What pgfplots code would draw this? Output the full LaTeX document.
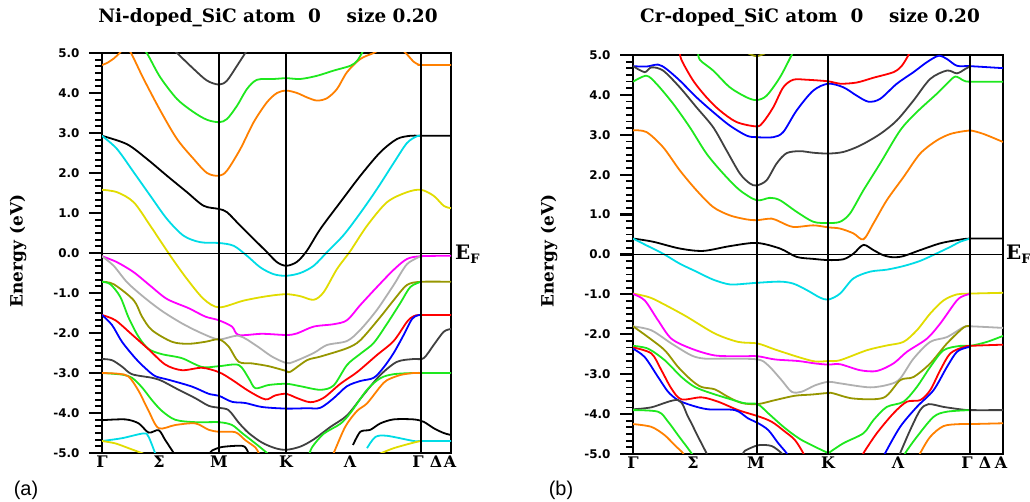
\documentclass[border=0pt]{standalone}
\usepackage{pgfplots}
\pgfplotsset{compat=1.18}
\usepackage{fontspec}
\setmainfont{DejaVu Serif}
\newfontfamily\tickfont{DejaVu Sans}
\newfontfamily\labfont{Liberation Sans}
\definecolor{bOr}{RGB}{255,128,0}
\definecolor{bGr}{RGB}{30,232,30}
\definecolor{bCy}{RGB}{0,220,230}
\definecolor{bYe}{RGB}{225,220,0}
\definecolor{bDG}{RGB}{64,64,64}
\definecolor{bMa}{RGB}{255,0,255}
\definecolor{bLG}{RGB}{176,176,176}
\definecolor{bOl}{RGB}{150,150,0}
\definecolor{bRe}{RGB}{255,0,0}
\definecolor{bBl}{RGB}{0,0,255}
\newcommand{\klab}{\bfseries\fontsize{16}{18}\selectfont}
\pgfplotsset{bandax/.style={
  scale only axis, anchor=south west,
  ymin=-5, ymax=5,
  ytick={-5,-4,-3,-2,-1,0,1,2,3,4,5},
  yticklabels={-5.0,-4.0,-3.0,-2.0,-1.0,0.0,1.0,2.0,3.0,4.0,5.0},
  xtick=\empty,
  tick pos=left,
  major tick length=0pt, minor tick length=0pt,
  yticklabel style={font=\tickfont\bfseries\fontsize{12}{14}\selectfont, xshift=-19bp},
  axis line style={line width=1.8bp},
  clip=true,
  every axis plot/.append style={line width=1.8bp, smooth, no markers},
}}
\begin{document}
\begin{tikzpicture}
\useasboundingbox (0,0) rectangle (1030bp,502bp);
% ---------------- panel (a) ----------------
\begin{axis}[bandax, at={(102bp,49bp)}, width=349bp, height=400bp,
  xmin=125, xmax=1172]
\addplot[bOr] coordinates {(125,4.70)(140,4.75)(160,4.86)(178,5.0)(195,5.15)(212,5.0)(250,4.35)(300,3.56)(350,2.85)(400,2.35)(440,2.0)(476,1.93)(500,2.06)(540,2.6)(580,3.27)(620,3.77)(650,4.0)(678,4.06)(710,4.0)(740,3.89)(770,3.81)(800,3.87)(830,4.1)(860,4.52)(900,4.85)(940,5.0)(960,5.1)};
\addplot[bOr] coordinates {(1030,5.05)(1045,4.92)(1060,4.78)(1075,4.71)(1082,4.70)(1172,4.70)};
\addplot[bGr] coordinates {(255,5.05)(265,4.92)(300,4.39)(350,3.85)(400,3.52)(440,3.33)(476,3.27)(500,3.35)(530,3.68)(560,4.1)(590,4.33)(640,4.35)(678,4.37)(720,4.35)(770,4.43)(820,4.56)(870,4.68)(890,4.8)(905,5.0)(912,5.1)};
\addplot[bDG] coordinates {(340,5.08)(350,5.0)(400,4.6)(440,4.31)(476,4.21)(500,4.31)(530,4.68)(555,5.0)(565,5.1)};
\addplot[black] coordinates {(125,2.93)(200,2.72)(260,2.35)(320,1.93)(380,1.52)(430,1.18)(476,1.1)(500,1.02)(540,0.68)(580,0.35)(620,0.02)(650,-0.23)(678,-0.32)(710,-0.22)(740,0.06)(780,0.6)(840,1.27)(900,1.93)(960,2.52)(1010,2.85)(1050,2.93)(1082,2.93)(1172,2.93)};
\addplot[bCy] coordinates {(125,2.93)(170,2.6)(220,2.02)(270,1.43)(320,0.85)(370,0.43)(420,0.27)(476,0.25)(520,0.18)(560,-0.07)(600,-0.36)(640,-0.53)(678,-0.57)(720,-0.5)(760,-0.32)(800,0.02)(850,0.45)(900,1.0)(950,1.6)(1000,2.25)(1040,2.75)(1070,2.92)(1082,2.93)};
\addplot[bYe] coordinates {(125,1.58)(170,1.52)(220,1.27)(270,0.68)(330,-0.07)(380,-0.65)(430,-1.15)(476,-1.36)(550,-1.19)(620,-1.08)(678,-1.03)(720,-1.08)(760,-1.17)(790,-0.98)(830,-0.4)(870,0.05)(920,0.68)(980,1.27)(1040,1.52)(1082,1.58)(1120,1.43)(1150,1.18)(1172,1.12)};
\addplot[bMa] coordinates {(125,-0.08)(170,-0.23)(220,-0.48)(270,-0.82)(320,-1.15)(385,-1.38)(435,-1.59)(475,-1.68)(515,-1.84)(535,-2.05)(605,-2.02)(678,-2.05)(710,-2.01)(760,-1.84)(820,-1.78)(860,-1.68)(900,-1.3)(950,-0.85)(1000,-0.42)(1040,-0.15)(1082,-0.08)(1172,-0.07)};
\addplot[bLG] coordinates {(125,-0.08)(160,-0.32)(200,-0.73)(250,-1.1)(305,-1.45)(365,-1.76)(425,-2.01)(476,-2.16)(535,-2.07)(585,-2.3)(635,-2.59)(678,-2.75)(700,-2.72)(760,-2.5)(800,-2.3)(860,-2.2)(900,-1.92)(950,-1.42)(1000,-0.8)(1040,-0.28)(1082,-0.08)};
\addplot[bOl] coordinates {(125,-0.72)(160,-0.78)(220,-1.18)(245,-1.59)(275,-1.93)(335,-2.22)(385,-2.27)(435,-2.22)(476,-2.16)(505,-2.34)(535,-2.72)(575,-2.76)(625,-2.83)(678,-2.95)(690,-2.97)(740,-2.68)(780,-2.59)(860,-2.38)(900,-2.18)(960,-1.6)(1000,-1.18)(1040,-0.8)(1082,-0.72)(1172,-0.72)};
\addplot[bGr] coordinates {(125,-0.72)(150,-0.78)(180,-1.1)(205,-1.62)(235,-2.1)(265,-2.4)(305,-2.53)(365,-2.63)(425,-2.85)(476,-2.83)(535,-2.8)(565,-3.13)(585,-3.38)(625,-3.3)(678,-3.27)(720,-3.33)(780,-3.42)(820,-3.31)(860,-2.8)(900,-2.52)(940,-2.25)(980,-1.77)(1020,-1.25)(1050,-0.85)(1082,-0.72)};
\addplot[bRe] coordinates {(125,-1.55)(165,-1.68)(215,-2.04)(265,-2.41)(315,-2.79)(365,-2.93)(425,-2.87)(476,-2.98)(515,-3.17)(565,-3.45)(615,-3.66)(645,-3.56)(678,-3.52)(705,-3.61)(750,-3.73)(790,-3.62)(840,-3.27)(890,-2.98)(950,-2.55)(1000,-2.2)(1040,-1.72)(1060,-1.58)(1082,-1.55)(1172,-1.55)};
\addplot[bBl] coordinates {(125,-1.55)(155,-1.8)(185,-2.22)(225,-2.63)(255,-2.88)(285,-3.08)(325,-3.17)(395,-3.34)(445,-3.52)(476,-3.57)(515,-3.72)(555,-3.75)(605,-3.85)(678,-3.89)(740,-3.88)(780,-3.87)(820,-3.63)(860,-3.33)(900,-3.2)(940,-3.12)(970,-2.86)(1000,-2.5)(1030,-2.05)(1055,-1.65)(1072,-1.56)(1082,-1.55)};
\addplot[bDG] coordinates {(125,-2.65)(155,-2.68)(185,-2.84)(215,-3.03)(275,-3.12)(305,-3.2)(355,-3.42)(405,-3.63)(445,-3.82)(476,-3.87)(505,-3.93)(535,-4.24)(565,-4.5)(605,-4.74)(645,-4.88)(678,-4.92)(720,-4.84)(760,-4.66)(810,-4.35)(860,-4.06)(910,-3.54)(960,-3.05)(1010,-2.72)(1060,-2.65)(1090,-2.63)(1120,-2.3)(1150,-1.97)(1172,-1.9)};
\addplot[bGr] coordinates {(125,-3.0)(185,-3.04)(215,-3.12)(245,-3.36)(275,-3.68)(305,-3.95)(345,-4.17)(405,-4.23)(476,-4.23)(515,-4.3)(545,-4.5)(585,-4.76)(620,-5.0)(630,-5.1)};
\addplot[bGr] coordinates {(745,-5.1)(755,-4.86)(790,-4.52)(840,-4.27)(870,-4.0)(920,-3.42)(960,-3.13)(1000,-3.03)(1060,-3.0)(1082,-3.0)(1172,-3.0)};
\addplot[bOr] coordinates {(125,-3.0)(175,-3.02)(205,-3.09)(235,-3.45)(265,-3.95)(295,-4.38)(345,-4.3)(405,-4.26)(445,-4.42)(476,-4.47)(525,-4.48)(555,-4.68)(585,-4.86)(595,-5.0)(600,-5.1)};
\addplot[bOr] coordinates {(812,-5.1)(820,-5.0)(855,-4.34)(890,-3.95)(920,-3.76)(960,-3.34)(980,-3.18)(1020,-3.05)(1060,-3.0)(1082,-3.0)};
\addplot[black] coordinates {(125,-4.18)(195,-4.16)(235,-4.26)(265,-4.49)(295,-4.43)(315,-4.68)(340,-5.0)(345,-5.1)};
\addplot[black] coordinates {(450,-5.0)(455,-4.94)(485,-4.85)(545,-4.82)(560,-4.92)(566,-5.05)};
\addplot[black] coordinates {(878,-4.8)(900,-4.47)(930,-4.42)(960,-4.26)(1000,-4.16)(1060,-4.16)(1090,-4.22)(1120,-4.38)(1150,-4.5)(1172,-4.55)};
\addplot[bCy] coordinates {(125,-4.7)(185,-4.63)(250,-4.51)(265,-4.6)(285,-5.02)};
\addplot[bCy] coordinates {(920,-4.88)(945,-4.6)(980,-4.57)(1060,-4.7)(1082,-4.7)(1172,-4.7)};
\addplot[bYe] coordinates {(125,-4.7)(165,-4.76)(205,-4.88)(250,-5.02)};
\addplot[bYe] coordinates {(958,-5.02)(1000,-4.88)(1060,-4.74)(1082,-4.7)};
\draw[line width=0.7bp] (125,0) -- (1172,0);
\draw[line width=2bp] (476,-5) -- (476,5);
\draw[line width=2bp] (678,-5) -- (678,5);
\draw[line width=2bp] (1082,-5) -- (1082,5);
\end{axis}
\foreach \x/\l in {102/Γ,159/Σ,219/M,286/K,350/Λ,418/Γ,436/Δ,450/A}
  \node[anchor=north, inner sep=0pt] at (\x bp,46bp) {\klab \l};
% ---------------- panel (b) ----------------
\begin{axis}[bandax, at={(633bp,48bp)}, width=370bp, height=399bp,
  xmin=160, xmax=1268]
\addplot[bBl] coordinates {(160,4.72)(200,4.71)(235,4.76)(260,4.65)(300,4.36)(350,3.94)(400,3.57)(450,3.23)(500,2.98)(530,2.94)(580,2.94)(610,3.07)(650,3.61)(700,4.11)(745,4.28)(790,4.19)(830,3.98)(865,3.83)(900,3.9)(950,4.28)(1000,4.57)(1040,4.82)(1075,4.98)(1100,4.9)(1130,4.73)(1170,4.72)(1268,4.67)};
\addplot[bDG] coordinates {(160,4.72)(195,4.57)(215,4.69)(250,4.61)(300,4.19)(350,3.69)(400,3.19)(440,2.61)(480,2.03)(510,1.78)(530,1.73)(560,1.86)(590,2.28)(620,2.54)(660,2.59)(700,2.55)(745,2.53)(790,2.57)(840,2.73)(900,3.02)(950,3.36)(1000,3.86)(1050,4.4)(1100,4.61)(1130,4.54)(1155,4.65)(1170,4.72)};
\addplot[bRe] coordinates {(300,5.1)(305,4.88)(340,4.36)(380,3.94)(420,3.61)(470,3.32)(530,3.21)(550,3.32)(580,3.69)(610,4.19)(640,4.38)(680,4.38)(745,4.34)(780,4.28)(830,4.31)(880,4.43)(940,4.57)(965,4.73)(985,5.0)(990,5.1)};
\addplot[bGr] coordinates {(355,5.1)(360,4.88)(400,4.61)(450,4.19)(500,3.94)(530,3.87)(560,3.98)(600,4.44)(635,5.0)(640,5.1)};
\addplot[bOl] coordinates {(505,5.04)(530,4.97)(555,5.04)};
\addplot[bGr] coordinates {(160,4.33)(200,4.48)(230,4.28)(280,3.78)(330,3.19)(380,2.53)(430,2.03)(480,1.61)(530,1.36)(570,1.42)(600,1.36)(650,1.07)(700,0.82)(745,0.79)(780,0.82)(810,1.03)(850,1.61)(900,2.28)(960,3.11)(1010,3.57)(1070,4.03)(1100,4.28)(1125,4.46)(1150,4.36)(1170,4.33)(1268,4.33)};
\addplot[bOr] coordinates {(160,3.11)(200,3.07)(250,2.69)(300,2.11)(350,1.61)(400,1.19)(450,0.98)(500,0.88)(530,0.86)(575,0.9)(600,0.82)(640,0.69)(700,0.73)(745,0.68)(780,0.65)(820,0.53)(850,0.38)(880,0.78)(920,1.36)(970,1.94)(1020,2.53)(1070,2.86)(1110,3.02)(1150,3.09)(1170,3.11)(1210,3.02)(1268,2.82)};
\addplot[black] coordinates {(160,0.4)(220,0.32)(300,0.15)(370,0.09)(450,0.21)(530,0.29)(600,0.15)(650,-0.06)(700,-0.11)(745,-0.14)(790,-0.12)(820,0.02)(850,0.24)(880,0.11)(910,-0.02)(940,-0.07)(970,-0.04)(1020,0.11)(1080,0.28)(1130,0.36)(1170,0.4)(1268,0.4)};
\addplot[bCy] coordinates {(160,0.4)(200,0.23)(250,0.02)(300,-0.23)(350,-0.43)(400,-0.63)(450,-0.75)(500,-0.73)(530,-0.71)(600,-0.68)(640,-0.73)(680,-0.89)(720,-1.08)(745,-1.13)(780,-0.98)(820,-0.6)(870,-0.43)(920,-0.38)(970,-0.29)(1020,-0.16)(1070,0.03)(1110,0.19)(1140,0.32)(1170,0.4)};
\addplot[bYe] coordinates {(160,-0.98)(200,-1.05)(230,-1.15)(315,-1.53)(405,-1.98)(475,-2.19)(533,-2.23)(585,-2.38)(655,-2.57)(705,-2.68)(745,-2.67)(780,-2.65)(860,-2.4)(920,-2.28)(970,-2.19)(1010,-1.9)(1050,-1.48)(1090,-1.15)(1130,-1.0)(1170,-0.98)(1268,-0.96)};
\addplot[bMa] coordinates {(160,-0.99)(195,-1.15)(235,-1.65)(275,-2.11)(335,-2.36)(405,-2.53)(485,-2.55)(533,-2.55)(585,-2.63)(655,-2.67)(705,-2.73)(745,-2.76)(780,-2.75)(840,-2.9)(890,-2.92)(940,-2.73)(980,-2.44)(1040,-2.11)(1080,-1.73)(1130,-1.15)(1155,-1.02)(1170,-0.99)};
\addplot[bLG] coordinates {(160,-1.8)(215,-1.9)(275,-2.23)(335,-2.53)(375,-2.61)(435,-2.61)(533,-2.63)(565,-2.78)(605,-3.15)(635,-3.44)(665,-3.44)(705,-3.28)(745,-3.19)(780,-3.23)(870,-3.33)(930,-3.25)(960,-3.11)(1000,-2.61)(1050,-2.19)(1100,-2.07)(1150,-1.82)(1170,-1.8)(1268,-1.84)};
\addplot[bOl] coordinates {(160,-1.8)(205,-2.07)(255,-2.4)(295,-2.82)(335,-3.15)(365,-3.32)(405,-3.38)(445,-3.57)(485,-3.72)(533,-3.75)(585,-3.65)(645,-3.54)(695,-3.51)(745,-3.47)(760,-3.48)(820,-3.61)(910,-3.59)(960,-3.15)(1000,-3.07)(1050,-2.73)(1100,-2.23)(1150,-1.83)(1170,-1.8)};
\addplot[bGr] coordinates {(160,-2.29)(205,-2.36)(255,-2.65)(305,-3.07)(345,-3.32)(395,-3.48)(445,-3.61)(495,-3.73)(533,-3.75)(565,-3.98)(605,-4.28)(635,-4.48)(665,-4.65)(705,-4.82)(745,-4.98)};
\addplot[bGr] coordinates {(745,-4.98)(790,-4.73)(850,-4.48)(880,-4.15)(920,-3.82)(970,-3.69)(1010,-3.32)(1050,-2.82)(1090,-2.4)(1140,-2.29)(1170,-2.29)(1220,-2.19)(1268,-2.04)};
\addplot[bRe] coordinates {(160,-2.33)(215,-2.48)(245,-2.9)(275,-3.36)(305,-3.63)(365,-3.58)(415,-3.69)(475,-3.9)(533,-4.05)(575,-4.19)(615,-4.44)(645,-4.65)(670,-4.98)(675,-5.1)};
\addplot[bRe] coordinates {(845,-5.1)(850,-4.98)(890,-4.48)(940,-3.98)(980,-3.69)(1020,-3.65)(1050,-3.4)(1080,-2.9)(1110,-2.48)(1150,-2.32)(1170,-2.29)(1268,-2.26)};
\addplot[bBl] coordinates {(160,-2.36)(195,-2.57)(235,-3.07)(265,-3.44)(295,-3.65)(335,-3.78)(385,-3.88)(465,-3.9)(505,-4.11)(533,-4.22)(565,-4.4)(595,-4.73)(620,-4.98)(625,-5.1)};
\addplot[bBl] coordinates {(910,-5.1)(915,-4.98)(960,-4.32)(1010,-3.82)(1060,-3.4)(1100,-2.82)(1130,-2.44)(1160,-2.33)(1170,-2.32)};
\addplot[bDG] coordinates {(160,-3.88)(215,-3.83)(295,-3.65)(325,-4.07)(355,-4.57)(380,-4.98)(385,-5.1)};
\addplot[bDG] coordinates {(490,-5.0)(495,-4.92)(535,-4.78)(575,-4.8)(605,-4.98)(608,-5.05)};
\addplot[bDG] coordinates {(955,-5.1)(960,-4.98)(990,-4.4)(1020,-3.9)(1045,-3.75)(1090,-3.82)(1140,-3.88)(1170,-3.9)(1268,-3.9)};
\addplot[bGr] coordinates {(160,-3.9)(235,-3.94)(265,-4.19)(295,-4.53)(335,-4.98)(340,-5.1)};
\addplot[bGr] coordinates {(970,-5.1)(975,-4.98)(1010,-4.57)(1060,-4.07)(1100,-3.94)(1170,-3.9)};
\addplot[bOr] coordinates {(160,-4.25)(215,-4.32)(255,-4.53)(285,-4.78)(310,-4.98)(315,-5.1)};
\addplot[bOr] coordinates {(1015,-5.1)(1020,-4.98)(1050,-4.57)(1090,-4.3)(1140,-4.25)(1170,-4.25)(1268,-4.23)};
\draw[line width=0.7bp] (160,0) -- (1268,0);
\draw[line width=2bp] (530,-5) -- (530,5);
\draw[line width=2bp] (745,-5) -- (745,5);
\draw[line width=2bp] (1170,-5) -- (1170,5);
\end{axis}
\foreach \x/\l in {633/Γ,693/Σ,756/M,828/K,898/Λ,967/Γ,985/Δ,1001/A}
  \node[anchor=north, inner sep=0pt] at (\x bp,45bp) {\klab \l};
% ---------------- y-axis tick marks ----------------
\foreach \i in {0,...,10} {
  \pgfmathsetmacro{\ya}{49+40*\i}
  \pgfmathsetmacro{\yb}{48+39.9*\i}
  \draw[black, line width=2.2bp] (89bp,\ya bp) -- (102bp,\ya bp);
  \draw[black, line width=2.2bp] (620bp,\yb bp) -- (633bp,\yb bp);
}
\foreach \i in {0,...,9} {
  \foreach \j in {1,...,5} {
    \pgfmathsetmacro{\ya}{49+40*\i+40*\j/6}
    \pgfmathsetmacro{\yb}{48+39.9*\i+39.9*\j/6}
    \draw[black, line width=1.8bp] (95bp,\ya bp) -- (102bp,\ya bp);
    \draw[black, line width=1.8bp] (626bp,\yb bp) -- (633bp,\yb bp);
  }
}
% ---------------- texts ----------------
\node at (268bp,484bp) {\bfseries\fontsize{18.5}{21}\selectfont Ni-doped\_SiC atom\ \ 0\ \ \ \ size 0.20};
\node at (810bp,484bp) {\bfseries\fontsize{18.5}{21}\selectfont Cr-doped\_SiC atom\ \ 0\ \ \ \ size 0.20};
\node[rotate=90] at (18bp,251bp) {\bfseries\fontsize{17}{19}\selectfont Energy (eV)};
\node[rotate=90] at (549bp,251bp) {\bfseries\fontsize{17}{19}\selectfont Energy (eV)};
\node[anchor=west, inner sep=0pt] at (455bp,248bp) {\bfseries\fontsize{20}{22}\selectfont E\raisebox{-4bp}{\fontsize{13}{14}\selectfont F}};
\node[anchor=west, inner sep=0pt] at (1006bp,248bp) {\bfseries\fontsize{20}{22}\selectfont E\raisebox{-4bp}{\fontsize{13}{14}\selectfont F}};
\node at (26bp,12bp) {\labfont\fontsize{20}{22}\selectfont (a)};
\node at (561bp,12bp) {\labfont\fontsize{20}{22}\selectfont (b)};
\end{tikzpicture}
\end{document}
